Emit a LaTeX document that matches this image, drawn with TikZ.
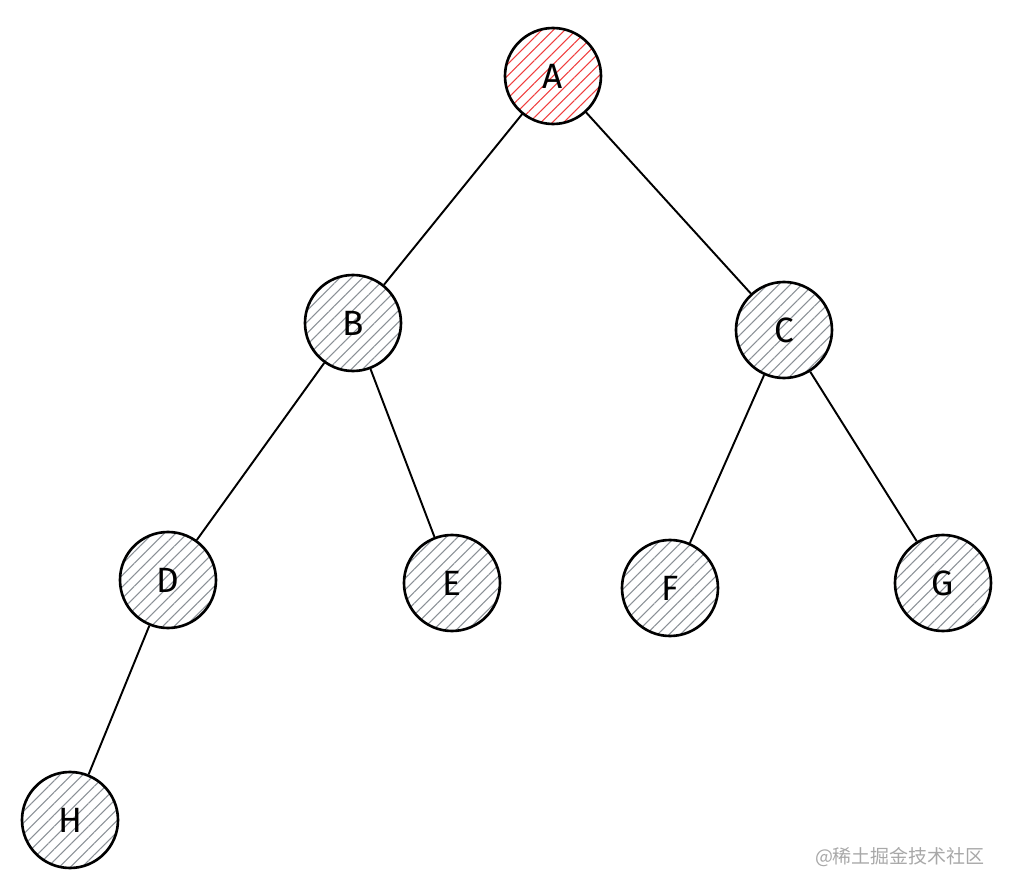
\documentclass[tikz,border=0pt]{standalone}
\usepackage{fontspec}
\setsansfont{Fira Sans}
\newfontfamily\cjk{Noto Sans CJK SC}
\usepackage{tikz}
\usetikzlibrary{patterns.meta}
\definecolor{hatchgray}{HTML}{8A9096}
\definecolor{hatchred}{HTML}{F03E3E}
\definecolor{markgray}{HTML}{A8A8A8}
\tikzset{vertex/.style={circle,draw=black,line width=1.5pt,minimum size=19.2mm,inner sep=0pt,font=\sffamily\fontsize{20}{24}\selectfont,pattern={Lines[angle=45,distance=4.6pt,line width=0.6pt]},pattern color=hatchgray},root/.style={vertex,pattern color=hatchred},edge/.style={line width=1.1pt,draw=black}}
\begin{document}
\begin{tikzpicture}
\useasboundingbox (0,0) rectangle (20.28,-17.84);
\node[root] (a) at (11.06,-1.52) {A};
\node[vertex] (b) at (7.06,-6.46) {B};
\node[vertex] (c) at (15.68,-6.6) {C};
\node[vertex] (d) at (3.36,-11.6) {D};
\node[vertex] (e) at (9.04,-11.66) {E};
\node[vertex] (f) at (13.4,-11.76) {F};
\node[vertex] (g) at (18.86,-11.66) {G};
\node[vertex] (h) at (1.4,-16.4) {H};
\draw[edge] (a)--(b);\draw[edge] (a)--(c);
\draw[edge] (b)--(d);\draw[edge] (b)--(e);
\draw[edge] (c)--(f);\draw[edge] (c)--(g);
\draw[edge] (d)--(h);
\node[text=markgray,font=\cjk\fontsize{10.8}{13}\selectfont,anchor=east] (mark) at (19.82,-17.14) {@稀土掘金技术社区};
\end{tikzpicture}
\end{document}
